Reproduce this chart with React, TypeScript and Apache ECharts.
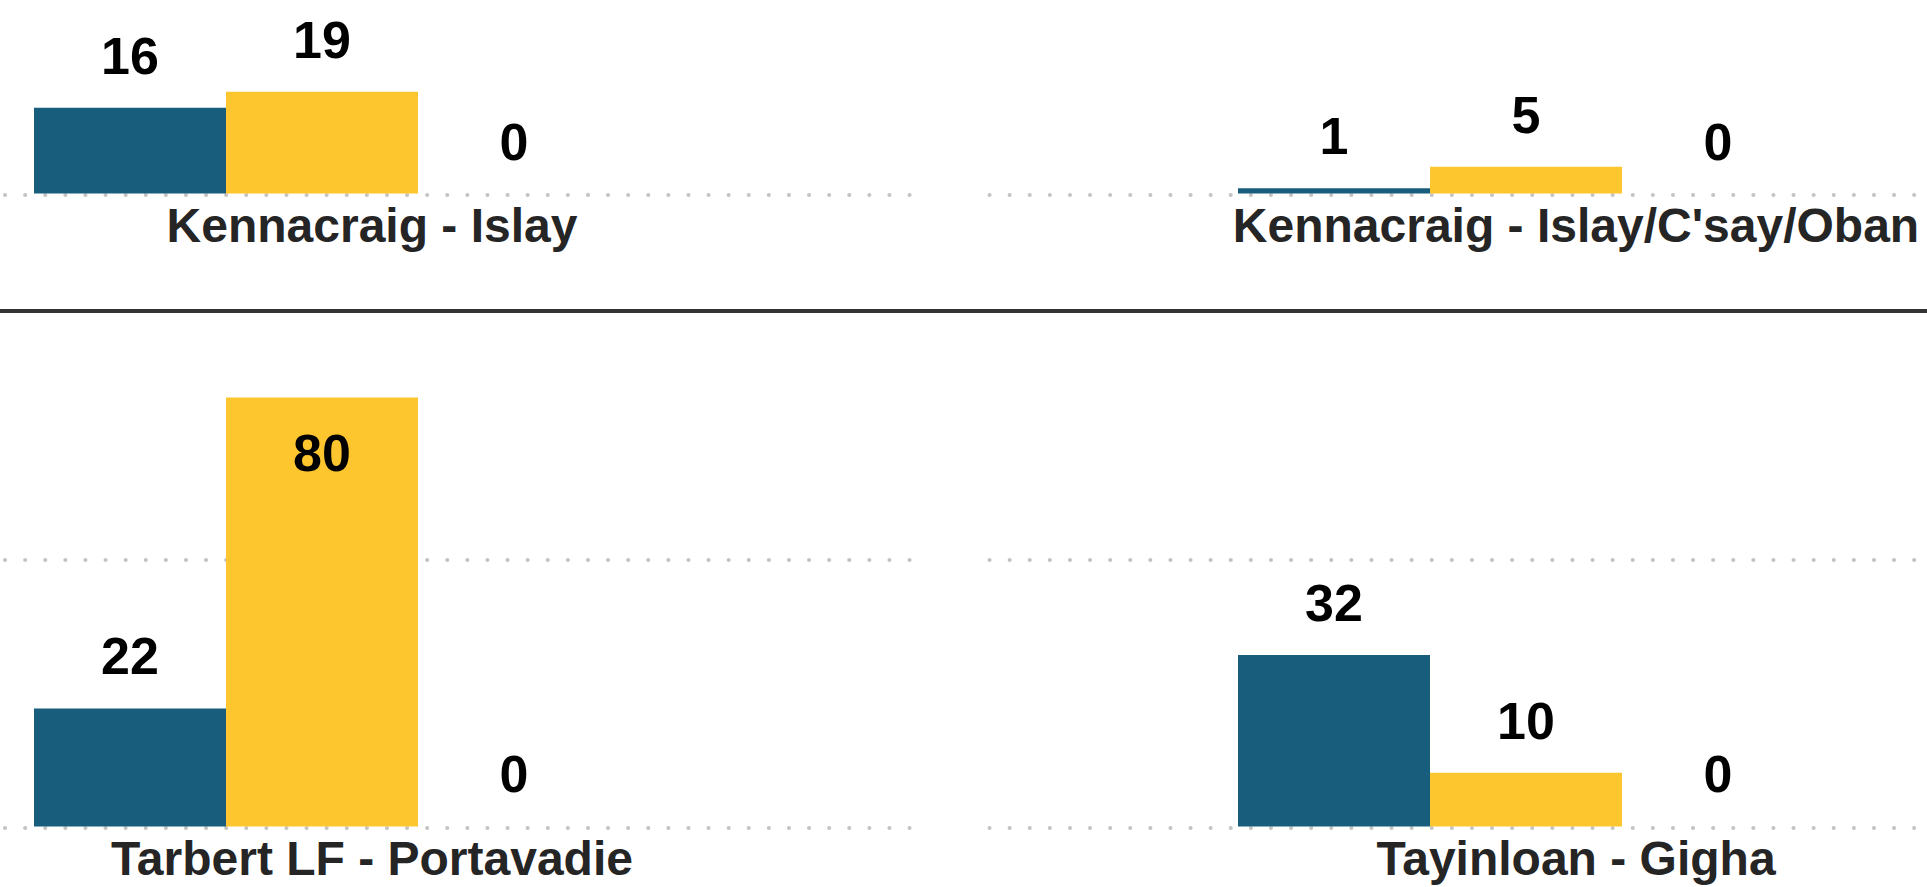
import React, { useEffect, useRef } from "react";
import * as echarts from "echarts";

// ---- data ----
const routes = [
  "Kennacraig - Islay",
  "Kennacraig - Islay/C'say/Oban",
  "Tarbert LF - Portavadie",
  "Tayinloan - Gigha",
];
const seriesNames = ["Series 1", "Series 2", "Series 3"];
const values1 = [16, 1, 22, 32];
const values2 = [19, 5, 80, 10];
const values3 = [0, 0, 0, 0];
const rowMax = [36, 90];
const gridInterval = 50;

// ---- styling / layout ----
const colors = ["#185E7C", "#FEC62E", "#9E9E9E"];
const W = 1927;
const H = 887;
const pxPerUnit = 5.36;
const rowBaseline = [193.5, 826.4];
const colBarLeft = [34, 1238];
const barGroupWidth = 576;
const colLineLeft = [5, 989.5];
const colLineWidth = [924, 934];
const FONT = "'Liberation Sans', Arial, Helvetica, sans-serif";
const LABEL_SIZE = 52;
const LABEL_DIST = 26;

export default function App() {
  const ref = useRef<HTMLDivElement>(null);

  useEffect(() => {
    if (!ref.current) return;
    const chart = echarts.init(ref.current, undefined, { renderer: "svg" });
    const allValues = [values1, values2, values3];

    const grids: any[] = [];
    const xAxes: any[] = [];
    const yAxes: any[] = [];
    const series: any[] = [];

    routes.forEach((route, i) => {
      const col = i % 2;
      const row = Math.floor(i / 2);
      const max = rowMax[row];
      const height = max * pxPerUnit;
      const top = rowBaseline[row] - height;

      // lines grid (dotted gridlines across the whole panel)
      const lg = grids.length;
      grids.push({ left: colLineLeft[col], top: top + 1.5, width: colLineWidth[col], height });
      xAxes.push({ type: "category", gridIndex: lg, data: [route], show: false });
      yAxes.push({
        type: "value",
        gridIndex: lg,
        min: 0,
        max,
        interval: gridInterval,
        axisLabel: { show: false },
        axisLine: { show: false },
        axisTick: { show: false },
        splitLine: {
          show: true,
          showMinLine: true,
          showMaxLine: false,
          lineStyle: { color: "#c4c4c4", width: 4, type: [0.1, 20], cap: "round" },
        },
      });

      // bars grid
      const bg = grids.length;
      grids.push({ left: colBarLeft[col], top, width: barGroupWidth, height });
      xAxes.push({
        type: "category",
        gridIndex: bg,
        data: [route],
        axisLine: { show: false },
        axisTick: { show: false },
        axisLabel: {
          show: true,
          fontSize: 48,
          fontWeight: "bold",
          fontFamily: FONT,
          color: "#252525",
          margin: 8,
          padding: [0, 0, 0, 100],
        },
      });
      yAxes.push({
        type: "value",
        gridIndex: bg,
        min: 0,
        max,
        show: false,
        splitLine: { show: false },
      });

      allValues.forEach((vals, s) => {
        const v = vals[i];
        const fitsAbove = v * pxPerUnit + LABEL_DIST + LABEL_SIZE <= height;
        series.push({
          type: "bar",
          name: seriesNames[s],
          xAxisIndex: bg,
          yAxisIndex: bg,
          barGap: "0%",
          barCategoryGap: "0%",
          itemStyle: { color: colors[s] },
          data: [
            {
              value: v,
              label: fitsAbove
                ? { position: "top", distance: LABEL_DIST }
                : { position: "insideTop", distance: 29 },
            },
          ],
          label: {
            show: true,
            fontSize: LABEL_SIZE,
            fontWeight: "bold",
            fontFamily: FONT,
            color: "#000",
          },
        });
      });
    });

    chart.setOption({
      animation: false,
      backgroundColor: "#ffffff",
      grid: grids,
      xAxis: xAxes,
      yAxis: yAxes,
      series,
      graphic: [
        {
          type: "rect",
          left: 0,
          top: 309,
          shape: { width: W, height: 4 },
          style: { fill: "#333333" },
          silent: true,
        },
      ],
    });

    return () => chart.dispose();
  }, []);

  return (
    <div
      ref={ref}
      style={{ position: "fixed", left: 0, top: 0, width: W, height: H, background: "#fff" }}
    />
  );
}
